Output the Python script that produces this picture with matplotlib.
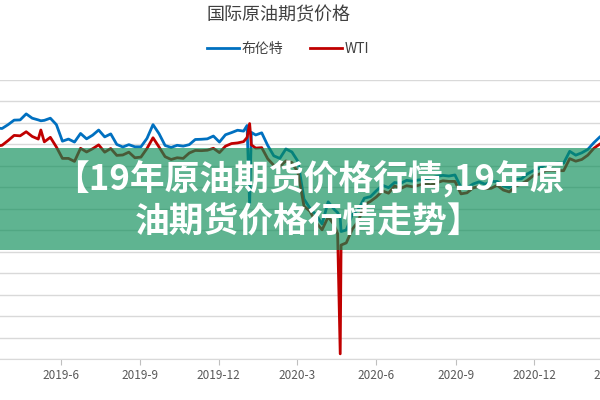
import matplotlib.pyplot as plt
import matplotlib.dates as mdates
import pandas as pd
from matplotlib.patches import Rectangle
from matplotlib.ticker import FuncFormatter

plt.rcParams['font.family'] = ['Noto Sans CJK SC', 'DejaVu Sans']

# weekly readings (plus a few extra days around the spikes)
dates = [
    '2019-03-18', '2019-03-25', '2019-04-01', '2019-04-08', '2019-04-15', '2019-04-22',
    '2019-04-29', '2019-05-06', '2019-05-09', '2019-05-13', '2019-05-20', '2019-05-27',
    '2019-06-03', '2019-06-10', '2019-06-17', '2019-06-24', '2019-07-01', '2019-07-08',
    '2019-07-15', '2019-07-22', '2019-07-29', '2019-08-05', '2019-08-12', '2019-08-19',
    '2019-08-26', '2019-09-02', '2019-09-09', '2019-09-16', '2019-09-23', '2019-09-30',
    '2019-10-07', '2019-10-14', '2019-10-21', '2019-10-28', '2019-11-04', '2019-11-11',
    '2019-11-18', '2019-11-25', '2019-12-02', '2019-12-09', '2019-12-16', '2019-12-23',
    '2019-12-30', '2020-01-03', '2020-01-06', '2020-01-08', '2020-01-13', '2020-01-20',
    '2020-01-27', '2020-02-03', '2020-02-10', '2020-02-17', '2020-02-24', '2020-03-02',
    '2020-03-09', '2020-03-16', '2020-03-23', '2020-03-30', '2020-04-06', '2020-04-13',
    '2020-04-17', '2020-04-20', '2020-04-21', '2020-04-27', '2020-05-04', '2020-05-11',
    '2020-05-18', '2020-05-25', '2020-06-01', '2020-06-08', '2020-06-15', '2020-06-22',
    '2020-06-29', '2020-07-06', '2020-07-13', '2020-07-20', '2020-07-27', '2020-08-03',
    '2020-08-10', '2020-08-17', '2020-08-24', '2020-08-31', '2020-09-07', '2020-09-14',
    '2020-09-21', '2020-09-28', '2020-10-05', '2020-10-12', '2020-10-19', '2020-10-26',
    '2020-11-02', '2020-11-09', '2020-11-16', '2020-11-23', '2020-11-30', '2020-12-07',
    '2020-12-14', '2020-12-21', '2020-12-28', '2021-01-04', '2021-01-11', '2021-01-18',
    '2021-01-25', '2021-02-01', '2021-02-08', '2021-02-15', '2021-02-22',
]

brent = [
    67.5, 67.2, 69.0, 71.1, 71.2, 74.0,
    72.0, 71.2, 70.8, 71.0, 72.0, 69.0,
    61.3, 62.3, 60.9, 64.9, 62.4, 64.1,
    66.5, 63.3, 64.7, 59.8, 58.6, 59.7,
    58.7, 58.7, 62.6, 69.0, 64.8, 59.3,
    58.4, 59.4, 59.0, 59.7, 62.1, 62.2,
    62.4, 63.7, 60.9, 64.3, 65.3, 66.4,
    66.0, 68.6, 32.0, 65.4, 64.2, 65.2,
    59.3, 54.5, 53.3, 57.7, 56.3, 51.9,
    34.4, 30.1, 27.0, 22.8, 33.1, 29.6,
    28.1, 25.6, 19.3, 20.0, 27.2, 29.6,
    34.8, 35.5, 38.3, 40.8, 39.7, 42.1,
    41.7, 43.1, 42.7, 43.3, 43.4, 44.2,
    44.9, 45.4, 45.1, 45.6, 39.8, 39.6,
    41.4, 42.4, 41.3, 42.5, 42.6, 40.5,
    39.7, 43.6, 43.8, 46.1, 47.6, 48.8,
    50.3, 50.9, 51.1, 51.1, 56.6, 54.8,
    55.9, 57.5, 60.6, 63.3, 65.2,
]

wti = [
    59.0, 59.4, 61.6, 64.0, 63.8, 65.7,
    63.5, 62.3, 66.5, 61.0, 63.1, 58.6,
    53.3, 53.3, 51.9, 58.0, 56.3, 57.8,
    59.6, 56.2, 57.9, 54.7, 54.9, 56.2,
    53.6, 53.9, 57.9, 62.9, 58.6, 54.1,
    52.8, 53.6, 53.3, 55.8, 57.0, 56.9,
    57.1, 58.0, 56.0, 59.0, 60.2, 60.5,
    61.1, 63.0, 69.5, 59.6, 58.1, 58.3,
    53.1, 50.1, 49.6, 52.1, 51.4, 46.8,
    31.1, 28.7, 23.4, 20.1, 26.1, 22.4,
    18.3, -37.6, 13.0, 14.0, 20.4, 24.1,
    31.8, 33.3, 35.4, 38.2, 37.1, 40.5,
    39.3, 40.6, 40.1, 40.8, 41.6, 41.0,
    42.0, 42.9, 42.6, 42.6, 36.8, 37.3,
    39.6, 40.2, 39.2, 39.4, 40.8, 38.6,
    37.7, 40.3, 41.4, 43.1, 45.3, 46.0,
    47.6, 47.7, 47.6, 47.6, 53.2, 52.0,
    52.8, 54.8, 58.0, 60.0, 61.5,
]

x = pd.to_datetime(dates)

fig = plt.figure(figsize=(6, 4), dpi=100)
# plot area runs past both edges of the picture (the reference is a crop)
ax = fig.add_axes([-0.1, 0.1025, 1.2, 0.69875])

ax.plot(x, brent, color='#0070c0', lw=2.0, label='布伦特')
ax.plot(x, wti, color='#c00000', lw=2.0, label='WTI')

ref = mdates.date2num(pd.Timestamp('2019-06-01'))
ppd = 0.8627  # pixels per day
ax.set_xlim(ref + (-60 - 60.7) / ppd, ref + (660 - 60.7) / ppd)
ax.set_ylim(-40, 90)
ax.set_yticks(range(-40, 91, 10))
ax.grid(axis='y', color='#d9d9d9', lw=1)
ax.set_axisbelow(True)

ax.xaxis.set_major_locator(mdates.MonthLocator(bymonth=[3, 6, 9, 12]))
ax.xaxis.set_major_formatter(FuncFormatter(
    lambda v, p: f"{mdates.num2date(v).year}-{mdates.num2date(v).month}"))
ax.tick_params(axis='x', length=4, color='#bfbfbf', labelcolor='#595959',
               labelsize=8.5, pad=3)
ax.tick_params(axis='y', length=0, labelleft=False)
for s in ['top', 'left', 'right']:
    ax.spines[s].set_visible(False)
ax.spines['bottom'].set_color('#d9d9d9')

fig.text(279 / 600, 1 - 15 / 400, '国际原油期货价格', ha='center', va='center',
         fontsize=13, color='#404040')
fig.legend(loc='center', bbox_to_anchor=(288 / 600, 1 - 49 / 400), ncol=2,
           frameon=False, fontsize=10, handlelength=2.3, handletextpad=0.15,
           columnspacing=2.0, labelcolor='#404040')

# green banner over the chart
fig.add_artist(Rectangle((0, 0.375), 1, 0.255, transform=fig.transFigure,
                         facecolor=(9 / 255, 140 / 255, 86 / 255), alpha=0.65,
                         edgecolor='none', zorder=5))
fig.text(309 / 600, 1 - 199 / 400, '【19年原油期货价格行情,19年原\n油期货价格行情走势】',
         ha='center', va='center', fontsize=25, fontweight='bold', color='white',
         linespacing=1.2, zorder=6)

fig.savefig('out.png', dpi=100)
